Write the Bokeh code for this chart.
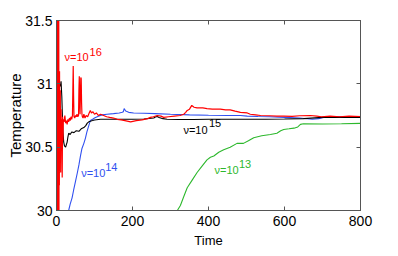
from bokeh.plotting import figure
from bokeh.models import LinearAxis, Label, Range1d, FixedTicker
from bokeh.embed import file_html
from bokeh.resources import INLINE

# ---- data ----
red_t = [0, 0.5, 1, 1.5, 2, 2.5, 3, 3.5, 4, 4.5, 5, 5.5, 6, 6.5, 7, 7.5, 8, 9, 10, 11, 12, 13, 14, 15, 16, 17, 18,
         20, 22, 24, 26, 28, 30, 32, 34, 36, 38, 40, 42, 43, 44, 45, 46, 48, 50, 52, 54, 56, 58, 59, 60, 61, 62, 63,
         64, 65, 66, 67, 68, 70, 72, 75, 78, 82, 86, 89, 92, 96, 100, 105, 110, 116, 124, 132, 140, 150, 160, 170,
         180, 195, 210, 225, 240, 247, 255, 265, 275, 282, 295, 310, 325, 335, 340, 344, 350, 356, 362, 370, 385,
         396, 410, 431, 445, 457, 470, 484, 502, 510, 524, 537, 560, 580, 598, 620, 640, 668, 685, 697, 720, 745,
         770, 800]
red_T = [31.6, 30.0, 31.6, 30.0, 31.6, 30.0, 31.5, 30.05, 31.3, 30.0, 31.1, 30.1, 31.5, 30.0, 31.0, 30.2, 31.1,
         30.4, 30.95, 30.3, 30.8, 30.5, 30.72, 30.26, 30.74, 30.55, 30.72,
         30.70, 30.75, 30.69, 30.71, 30.68, 30.72, 30.70, 30.73, 30.71, 30.74, 30.72, 30.75, 30.95, 31.14, 30.90,
         30.74, 30.73, 30.75, 30.74, 30.76, 30.74, 30.75, 30.95, 31.06, 30.85, 30.76, 30.92,
         31.05, 31.04, 30.85, 30.76, 30.74, 30.73, 30.76, 30.73, 30.75, 30.74, 30.77, 30.79, 30.77, 30.78, 30.76,
         30.77, 30.75, 30.76, 30.75, 30.74, 30.735, 30.73, 30.72, 30.715,
         30.71, 30.70, 30.71, 30.715, 30.725, 30.735, 30.74, 30.75, 30.745, 30.735, 30.74, 30.745, 30.75, 30.76,
         30.775, 30.79, 30.80, 30.83, 30.815, 30.81, 30.81,
         30.805, 30.80, 30.80, 30.795, 30.795, 30.785, 30.775, 30.77, 30.76, 30.755, 30.75, 30.748, 30.745, 30.745,
         30.743, 30.748, 30.75, 30.745, 30.74, 30.745, 30.74,
         30.745, 30.742]

black_t = [0, 2, 4, 6, 8, 10, 12, 14, 16, 17, 19, 21, 24, 26, 28, 30, 32, 36, 40, 46, 52, 59, 65, 72, 77, 81, 85,
           89, 95, 100, 116, 130, 150, 168, 200, 230, 256, 260, 265, 270, 280, 291, 320, 360, 400, 450, 500, 550,
           600, 650, 700, 750, 800]
black_T = [30.9, 31.0, 31.05, 31.03, 31.0, 30.98, 31.02, 30.9, 30.7, 30.62, 30.54, 30.51, 30.50, 30.52, 30.54,
           30.58, 30.61, 30.60, 30.62, 30.615, 30.63, 30.625, 30.645, 30.655, 30.67, 30.69, 30.70,
           30.705, 30.71, 30.715, 30.72, 30.72, 30.72, 30.72, 30.72, 30.722, 30.73, 30.738, 30.742, 30.735, 30.725,
           30.72, 30.718, 30.718, 30.72, 30.72, 30.72, 30.72,
           30.722, 30.725, 30.735, 30.735, 30.735]

blue_t = [30, 32, 36, 41, 45, 50, 55, 59, 63, 67, 72, 76, 80, 85, 89, 95, 100, 110, 120, 133, 150, 165, 173, 176,
          178, 182, 190, 203, 230, 260, 300, 350, 400, 450, 484, 502, 530, 560, 600, 640, 673, 690, 703, 730, 760,
          800]
blue_T = [29.9, 30.0, 30.05, 30.10, 30.16, 30.23, 30.30, 30.36, 30.43, 30.49, 30.53, 30.57, 30.62, 30.67, 30.71,
          30.72, 30.73, 30.745, 30.755, 30.76, 30.765, 30.77, 30.775, 30.78,
          30.805, 30.785, 30.775, 30.77, 30.768, 30.765, 30.76, 30.755, 30.752, 30.75, 30.75, 30.745, 30.742, 30.74,
          30.735, 30.73, 30.72, 30.725, 30.735, 30.74, 30.74,
          30.74]

green_t = [300, 318, 326, 335, 344, 357, 370, 383, 396, 405, 414, 427, 440, 457, 475, 492, 505, 519, 540, 563, 580,
           590, 598, 612, 625, 635, 642, 650, 700, 750, 800]
green_T = [29.85, 30.0, 30.04, 30.11, 30.18, 30.24, 30.30, 30.35, 30.40, 30.42, 30.43, 30.46, 30.48, 30.50, 30.53,
           30.53, 30.55, 30.575, 30.59, 30.60, 30.61, 30.63, 30.64, 30.645, 30.65, 30.66, 30.68, 30.685, 30.683,
           30.685, 30.688]

x_ticks = [0, 200, 400, 600, 800]
y_ticks = [30, 30.5, 31, 31.5]
y_tick_labels = {30: "30", 30.5: "30.5", 31: "31", 31.5: "31.5"}

# labels: (base text, exponent, base x, base y, exponent x, exponent y, colour) - data coords
labels = [
    ("ν=10", "16", 21, 31.212, 87, 31.251, "#ff0000"),
    ("ν=10", "15", 334, 30.639, 401, 30.694, "#000000"),
    ("ν=10", "14", 65, 30.295, 128, 30.342, "#3050f0"),
    ("ν=10", "13", 416, 30.321, 480, 30.368, "#2db82d"),
]

FONT = "Liberation Sans"
AXIS_COL = "#555555"

p = figure(width=390, height=250, output_backend="svg", toolbar_location=None,
           x_range=Range1d(0, 800), y_range=Range1d(30, 31.5),
           min_border_left=56, min_border_right=30, min_border_top=20, min_border_bottom=37)
p.grid.visible = False
p.outline_line_color = AXIS_COL
p.background_fill_color = "white"
p.border_fill_color = "white"

p.line(green_t, green_T, line_color="#2db82d", line_width=1.1)
p.line(blue_t, blue_T, line_color="#3050f0", line_width=1.1)
p.line(black_t, black_T, line_color="#000000", line_width=1.1)
p.line(red_t, red_T, line_color="#ff0000", line_width=1.2)

def style_axis(ax):
    ax.axis_line_color = AXIS_COL
    ax.major_tick_line_color = AXIS_COL
    ax.major_tick_in = 4
    ax.major_tick_out = 0
    ax.minor_tick_line_color = None
    ax.major_label_text_font = FONT
    ax.major_label_text_font_size = "14px"
    ax.major_label_text_color = "black"
    ax.axis_label_text_font = FONT
    ax.axis_label_text_font_size = "13px"
    ax.axis_label_text_font_style = "normal"
    ax.axis_label_text_color = "black"

p.xaxis.ticker = FixedTicker(ticks=x_ticks)
p.yaxis.ticker = FixedTicker(ticks=y_ticks)
p.yaxis.major_label_overrides = y_tick_labels
p.xaxis.axis_label = "Time"
p.yaxis.axis_label = "Temperature"
style_axis(p.xaxis[0])
style_axis(p.yaxis[0])
p.yaxis.axis_label_text_font_size = "15px"
p.xaxis.major_label_standoff = 5
p.yaxis.major_label_standoff = 4
p.xaxis.axis_label_standoff = 4
p.yaxis.axis_label_standoff = -2

top = LinearAxis(ticker=FixedTicker(ticks=x_ticks),
                 major_label_overrides={t: "" for t in x_ticks})
right = LinearAxis(ticker=FixedTicker(ticks=y_ticks),
                   major_label_overrides={t: "" for t in y_ticks})
style_axis(top)
style_axis(right)
top.major_label_standoff = 0
right.major_label_standoff = 0
p.add_layout(top, "above")
p.add_layout(right, "right")

for base, exp, x, y, xe, ye, col in labels:
    p.add_layout(Label(x=x, y=y, text=base, text_color=col, text_font=FONT,
                       text_font_size="11px", text_baseline="middle", text_align="left"))
    p.add_layout(Label(x=xe, y=ye, text=exp, text_color=col, text_font=FONT,
                       text_font_size="11px", text_baseline="middle", text_align="left"))

open("out.html", "w").write(file_html(p, INLINE))
